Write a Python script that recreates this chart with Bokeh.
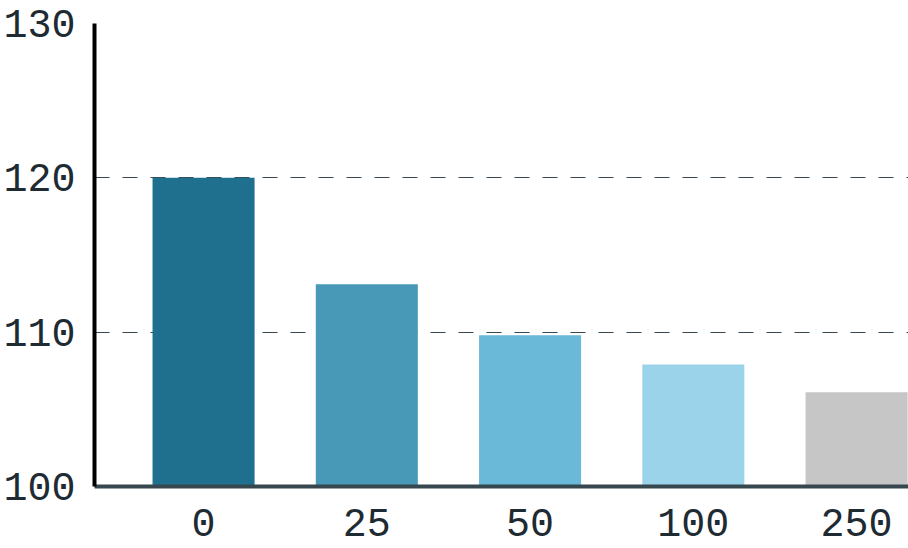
from bokeh.plotting import figure
from bokeh.models import Range1d, FixedTicker
from bokeh.embed import file_html
from bokeh.resources import INLINE

categories = ["0", "25", "50", "100", "250"]
values = [120.0, 113.1, 109.8, 107.9, 106.1]
colors = ["#1f708f", "#4799b7", "#6bb9d8", "#9ad3ea", "#c6c6c6"]
y_ticks = [100, 110, 120, 130]

FONT = "Liberation Mono"
TEXT = "#1e2b33"

xs = list(range(len(categories)))

p = figure(width=908, height=548, output_backend="svg", toolbar_location=None,
           x_range=Range1d(-0.668, 4.318), y_range=Range1d(100, 130),
           min_border_left=94, min_border_right=0, min_border_top=23,
           min_border_bottom=62)
p.outline_line_color = None
p.background_fill_color = "white"
p.border_fill_color = "white"

p.vbar(x=xs, top=values, bottom=100, width=0.625, fill_color=colors, line_color=None)

p.xgrid.visible = False
p.ygrid.ticker = FixedTicker(ticks=[110, 120, 130])
p.ygrid.grid_line_color = "#37474f"
p.ygrid.grid_line_width = 1.2
p.ygrid.grid_line_dash = "15 13"

p.yaxis.ticker = FixedTicker(ticks=y_ticks)
p.yaxis.axis_line_color = "black"
p.yaxis.axis_line_width = 4
p.yaxis.major_tick_line_color = None
p.yaxis.minor_tick_line_color = None
p.yaxis.major_tick_out = 0
p.yaxis.major_tick_in = 0
p.yaxis.major_label_standoff = 19
p.yaxis.major_label_text_font = FONT
p.yaxis.major_label_text_font_size = "40px"
p.yaxis.major_label_text_color = TEXT

p.xaxis.ticker = FixedTicker(ticks=xs)
p.xaxis.major_label_overrides = {i: c for i, c in zip(xs, categories)}
p.xaxis.axis_line_color = "#37474f"
p.xaxis.axis_line_width = 4
p.xaxis.major_tick_line_color = None
p.xaxis.minor_tick_line_color = None
p.xaxis.major_tick_out = 0
p.xaxis.major_tick_in = 0
p.xaxis.major_label_standoff = 22
p.xaxis.major_label_text_font = FONT
p.xaxis.major_label_text_font_size = "40px"
p.xaxis.major_label_text_color = TEXT

open("out.html", "w").write(file_html(p, INLINE))
